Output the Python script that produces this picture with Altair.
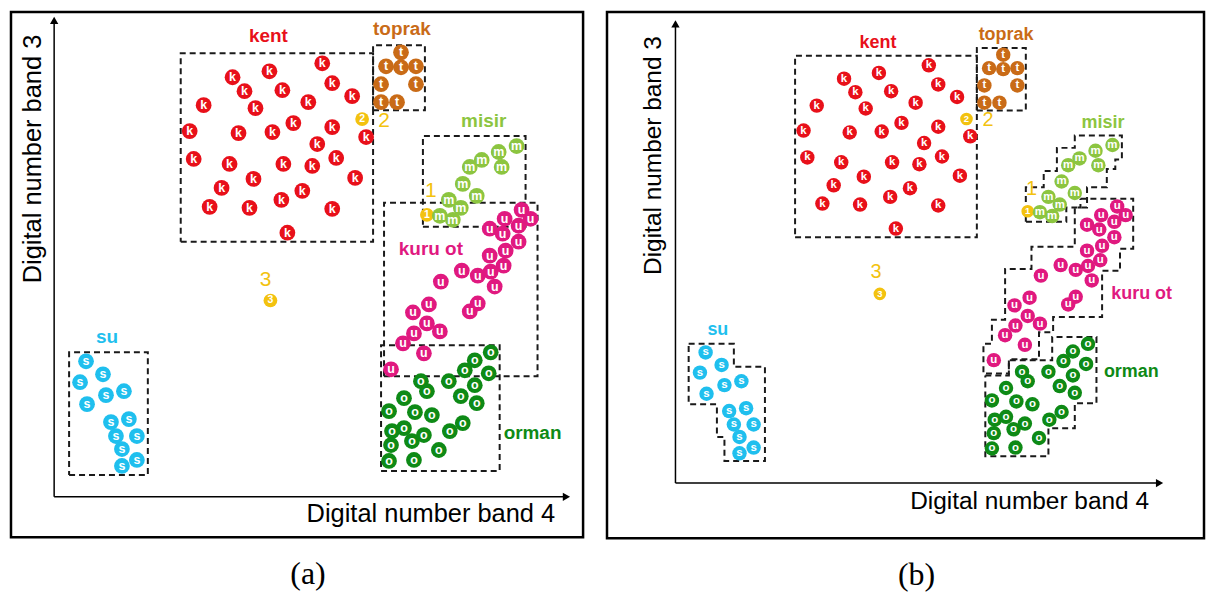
import altair as alt
import pandas as pd

# ---------------- data ----------------
# x = Digital number band 4, y = Digital number band 3 (origin at the axes corner)
kent_x = [269,216,179,191,229,279,150,202,255,299,136,185,219,240,279,313,264,140,176,230,259,283,200,302,168,249,156,196,228,279,234]
kent_y = [435,427,421,407,408,415,393,390,396,402,367,365,366,375,371,361,354,339,334,334,332,340,319,320,310,307,291,290,298,289,265]
toprak_x = [348,333,348,363,328,363,328,344]
toprak_y = [446,432,431,432,414,414,396,396]
misir_x = [464,446,429,417,449,410,424,396,408,387,400]
misir_y = [352,346,338,331,331,314,302,298,290,282,278]
kuruot_x = [469,452,478,466,437,450,466,453,437,451,409,425,438,442,388,417,425,360,376,374,361,387,350,371,338]
kuruot_y = [288,279,279,272,269,264,256,247,242,232,227,222,226,211,216,186,194,185,193,174,164,166,154,144,128]
orman_x = [438,422,436,412,422,396,368,374,408,424,351,336,362,379,339,351,359,371,397,410,338,386,336,361]
orman_y = [145,137,124,127,112,116,116,106,101,94,99,86,85,82,66,69,56,62,66,74,52,47,36,37]
su_x = [32,49,26,52,70,33,57,75,62,83,68,83,68]
su_y = [136,123,115,102,106,93,75,78,61,61,48,37,31]
test_x = [374,309,217]
test_y = [283,379,197]
test_ids = ["1","2","3"]

class_names = ["kent", "toprak", "misir", "kuru ot", "orman", "su"]
class_letters = ["k", "t", "m", "u", "o", "s"]
class_colors = ["#e8101a", "#c96b17", "#8cc540", "#e0197f", "#0e8a16", "#1fbfee"]
test_color = "#f3c20f"

# panel (a): rectangular decision boxes
rect_names = ["kent", "toprak", "misir", "kuru ot", "orman", "su"]
rect_x0 = [127, 320, 370, 331, 328, 15]
rect_x1 = [320, 372, 473, 485, 447, 94]
rect_y0 = [256, 388, 271, 121, 26, 22]
rect_y1 = [445, 453, 362, 295, 152, 145]

# panel (b): stepped polygons
misir_poly_x = [372,372,391,391,405,405,424,424,474,474,467,467,458,458,437,437,415,415]
misir_poly_y = [272,308,308,325,325,349,349,362,362,337,337,327,327,308,308,287,287,272]
kuruot_poly_x = [430,486,486,472,472,453,453,401,401,386,386,354,354,327,327,336,336,350,350,378,378,424,424,430]
kuruot_poly_y = [296,296,244,244,221,221,173,173,157,157,129,129,114,114,145,145,170,170,223,223,246,246,287,287]
orman_poly_x = [329,354,354,400,400,447,447,424,424,396,396,329]
orman_poly_y = [112,112,128,128,152,152,83,83,57,57,28,28]
su_poly_x = [14,62,62,95,95,52,52,44,44,14]
su_poly_y = [145,145,121,121,23,23,48,48,82,82]

# class labels
label_text = ["kent", "toprak", "misir", "kuru ot", "orman", "su"]
label_a_x = [215, 349, 431, 378, 480, 53]
label_a_y = [462, 469, 377, 249, 64, 160]
label_b_x = [215, 351, 454, 495, 484, 45]
label_b_y = [458, 467, 375, 197, 116, 159]
num_a_x = [378, 331, 212]
num_a_y = [307, 377, 218]
num_b_x = [378, 332, 213]
num_b_y = [306, 378, 220]

# axes (arrows) and their titles
axis_end_x = 511
axis_end_y = 475
xtitle = "Digital number band 4"
ytitle = "Digital number band 3"

# ---------------- tables ----------------
series = [kent_x, toprak_x, misir_x, kuruot_x, orman_x, su_x]
series_y = [kent_y, toprak_y, misir_y, kuruot_y, orman_y, su_y]
rows = []
for name, let, col, xs, ys in zip(class_names, class_letters, class_colors, series, series_y):
    for xv, yv in zip(xs, ys):
        rows.append({"x": xv, "y": yv, "cls": name, "letter": let, "color": col})
points = pd.DataFrame(rows)
tests = pd.DataFrame({"x": test_x, "y": test_y, "letter": test_ids, "color": test_color})

def rect_table(names):
    r = []
    for n, x0, x1, y0, y1 in zip(rect_names, rect_x0, rect_x1, rect_y0, rect_y1):
        if n in names:
            for i, (px, py) in enumerate([(x0, y0), (x1, y0), (x1, y1), (x0, y1), (x0, y0)]):
                r.append({"name": n, "order": i, "x": px, "y": py})
    return r

def poly_table(name, xs, ys):
    xs = list(xs) + [xs[0]]
    ys = list(ys) + [ys[0]]
    return [{"name": name, "order": i, "x": a, "y": b} for i, (a, b) in enumerate(zip(xs, ys))]

boxes_a = pd.DataFrame(rect_table(rect_names))
boxes_b = pd.DataFrame(
    rect_table(["kent", "toprak"])
    + poly_table("misir", misir_poly_x, misir_poly_y)
    + poly_table("kuru ot", kuruot_poly_x, kuruot_poly_y)
    + poly_table("orman", orman_poly_x, orman_poly_y)
    + poly_table("su", su_poly_x, su_poly_y)
)

axes = pd.DataFrame({"x": [0, 0], "y": [0, 0], "x2": [axis_end_x, 0], "y2": [0, axis_end_y]})
heads = pd.DataFrame({"x": [axis_end_x + 3, 0], "y": [0, axis_end_y + 3],
                      "shape": ["triangle-right", "triangle-up"]})


def panel(xdom, ydom, w, h, boxes, lab_x, lab_y, nx, ny, xt_pos, yt_pos, tsize,
          caption, psize, tpsize, lsize, fsize, nsize):
    xs = alt.Scale(domain=xdom, nice=False, zero=False)
    ys = alt.Scale(domain=ydom, nice=False, zero=False)
    X = alt.X("x:Q", scale=xs, axis=None)
    Y = alt.Y("y:Q", scale=ys, axis=None)

    labels = pd.DataFrame({"x": lab_x, "y": lab_y, "text": label_text, "color": class_colors})
    nums = pd.DataFrame({"x": nx, "y": ny, "text": test_ids})
    tt = pd.DataFrame({"x": [xt_pos[0]], "y": [xt_pos[1]], "text": [xtitle]})
    ty = pd.DataFrame({"x": [yt_pos[0]], "y": [yt_pos[1]], "text": [ytitle]})

    box_layer = alt.Chart(boxes).mark_line(
        strokeDash=[6, 4], strokeWidth=2, color="#1a1a1a"
    ).encode(x=X, y=Y, detail="name:N", order="order:Q")
    axis_layer = alt.Chart(axes).mark_rule(color="black", strokeWidth=1.5).encode(
        x=X, y=Y, x2="x2:Q", y2="y2:Q")
    head_layer = alt.Chart(heads).mark_point(filled=True, color="black", opacity=1, size=70).encode(
        x=X, y=Y, shape=alt.Shape("shape:N", scale=None))
    test_layer = alt.Chart(tests).mark_circle(size=tpsize, opacity=1).encode(
        x=X, y=Y, color=alt.Color("color:N", scale=None))
    test_txt = alt.Chart(tests).mark_text(color="white", fontWeight="bold", fontSize=fsize - 2,
                                          font="Liberation Sans", baseline="middle").encode(
        x=X, y=Y, text="letter:N")
    pt_layer = alt.Chart(points).mark_circle(size=psize, opacity=1).encode(
        x=X, y=Y, color=alt.Color("color:N", scale=None))
    pt_txt = alt.Chart(points).mark_text(color="white", fontWeight="bold", fontSize=fsize,
                                         font="Liberation Sans", baseline="middle", dy=0).encode(
        x=X, y=Y, text="letter:N")
    lab_layer = alt.Chart(labels).mark_text(fontWeight="bold", fontSize=lsize,
                                            font="Liberation Sans", baseline="middle").encode(
        x=X, y=Y, text="text:N", color=alt.Color("color:N", scale=None))
    num_layer = alt.Chart(nums).mark_text(fontSize=nsize, color=test_color,
                                          font="Liberation Sans", baseline="middle").encode(
        x=X, y=Y, text="text:N")
    xt_layer = alt.Chart(tt).mark_text(fontSize=tsize, color="black", font="Liberation Sans",
                                       baseline="alphabetic", align="center").encode(
        x=X, y=Y, text="text:N")
    yt_layer = alt.Chart(ty).mark_text(fontSize=tsize, color="black", font="Liberation Sans",
                                       baseline="alphabetic", align="center", angle=270).encode(
        x=X, y=Y, text="text:N")

    return alt.layer(
        box_layer, axis_layer, head_layer, test_layer, test_txt, pt_layer, pt_txt,
        lab_layer, num_layer, xt_layer, yt_layer
    ).properties(
        width=w, height=h,
        title=alt.TitleParams(caption, orient="bottom", font="Liberation Serif", fontSize=32,
                              fontWeight="normal", color="black", offset=22, dx=11,
                              anchor="middle"),
    )


pa = panel([-43.3, 530.7], [-40.5, 486.5], 574, 527, boxes_a, label_a_x, label_a_y,
           num_a_x, num_a_y, (378, -25), (-13, 339), 25.5, "(a)", 250, 190, 19, 12.5, 21)
pb = panel([-72.7, 561.2], [-57.4, 490.5], 599, 528, boxes_b, label_b_x, label_b_y,
           num_b_x, num_b_y, (376, -27), (-15.5, 341), 24.5, "(b)", 210, 160, 18, 11.5, 20)

chart = alt.hconcat(pa, pb, spacing=24, bounds="flush").resolve_scale(
    x="independent", y="independent"
).properties(
    padding={"left": 1, "top": 1, "right": 0, "bottom": 0},
    background="white",
).configure_view(stroke="black", strokeWidth=2.5)

chart.save("out.html", embed_options={"renderer": "svg", "actions": False})
